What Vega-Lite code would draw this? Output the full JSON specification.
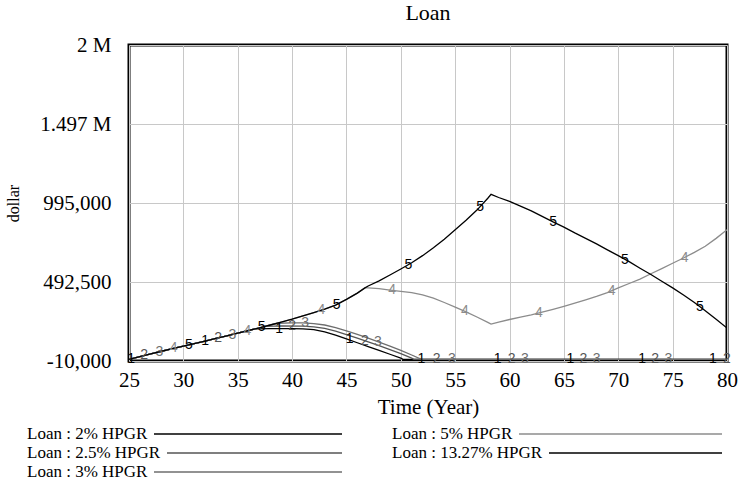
{
  "$schema": "https://vega.github.io/schema/vega-lite/v6.json",
  "autosize": {"type": "none"},
  "padding": {"left": 129, "top": 45, "right": 11, "bottom": 124},
  "width": 598,
  "height": 316,
  "background": "white",
  "title": {"text": "Loan", "font": "Liberation Serif", "fontSize": 22, "fontWeight": "normal", "color": "#000", "offset": 9, "anchor": "middle"},
  "config": {
    "view": {"stroke": "#000", "strokeWidth": 3},
    "axis": {"domain": false, "ticks": false, "grid": true, "gridColor": "#c8c8c8", "gridWidth": 1, "labelFont": "Liberation Serif", "labelFontSize": 21, "labelColor": "#000", "titleFont": "Liberation Serif", "titleFontWeight": "normal", "titleColor": "#000"}
  },
  "datasets": {
    "lines": [
      {"run": "1", "year": 25, "value": 0}, {"run": "1", "year": 26, "value": 18000}, {"run": "1", "year": 27, "value": 36000}, {"run": "1", "year": 28, "value": 52000}, {"run": "1", "year": 29, "value": 68000}, {"run": "1", "year": 30, "value": 84000}, {"run": "1", "year": 31, "value": 100000}, {"run": "1", "year": 32, "value": 117000}, {"run": "1", "year": 33, "value": 134000}, {"run": "1", "year": 34, "value": 150000}, {"run": "1", "year": 35, "value": 167000}, {"run": "1", "year": 36, "value": 184000}, {"run": "1", "year": 36.6, "value": 194000}, {"run": "1", "year": 38, "value": 196000}, {"run": "1", "year": 40, "value": 196000}, {"run": "1", "year": 41, "value": 194000}, {"run": "1", "year": 42, "value": 189000}, {"run": "1", "year": 43, "value": 175000}, {"run": "1", "year": 44, "value": 155000}, {"run": "1", "year": 45, "value": 131000}, {"run": "1", "year": 46, "value": 106000}, {"run": "1", "year": 47, "value": 81000}, {"run": "1", "year": 48, "value": 57000}, {"run": "1", "year": 49, "value": 33000}, {"run": "1", "year": 50, "value": 8000}, {"run": "1", "year": 50.2, "value": 0}, {"run": "1", "year": 80, "value": 0},
      {"run": "2", "year": 25, "value": 0}, {"run": "2", "year": 26, "value": 18000}, {"run": "2", "year": 27, "value": 36000}, {"run": "2", "year": 28, "value": 52000}, {"run": "2", "year": 29, "value": 68000}, {"run": "2", "year": 30, "value": 84000}, {"run": "2", "year": 31, "value": 100000}, {"run": "2", "year": 32, "value": 117000}, {"run": "2", "year": 33, "value": 134000}, {"run": "2", "year": 34, "value": 150000}, {"run": "2", "year": 35, "value": 167000}, {"run": "2", "year": 36, "value": 184000}, {"run": "2", "year": 37, "value": 201000}, {"run": "2", "year": 37.6, "value": 210000}, {"run": "2", "year": 39, "value": 213000}, {"run": "2", "year": 41, "value": 212000}, {"run": "2", "year": 42, "value": 207000}, {"run": "2", "year": 43, "value": 197000}, {"run": "2", "year": 44, "value": 180000}, {"run": "2", "year": 45, "value": 158000}, {"run": "2", "year": 46, "value": 135000}, {"run": "2", "year": 47, "value": 112000}, {"run": "2", "year": 48, "value": 88000}, {"run": "2", "year": 49, "value": 63000}, {"run": "2", "year": 50, "value": 37000}, {"run": "2", "year": 51, "value": 8000}, {"run": "2", "year": 51.2, "value": 0}, {"run": "2", "year": 80, "value": 0},
      {"run": "3", "year": 25, "value": 0}, {"run": "3", "year": 26, "value": 18000}, {"run": "3", "year": 27, "value": 36000}, {"run": "3", "year": 28, "value": 52000}, {"run": "3", "year": 29, "value": 68000}, {"run": "3", "year": 30, "value": 84000}, {"run": "3", "year": 31, "value": 100000}, {"run": "3", "year": 32, "value": 117000}, {"run": "3", "year": 33, "value": 134000}, {"run": "3", "year": 34, "value": 150000}, {"run": "3", "year": 35, "value": 167000}, {"run": "3", "year": 36, "value": 184000}, {"run": "3", "year": 37, "value": 201000}, {"run": "3", "year": 38, "value": 219000}, {"run": "3", "year": 38.7, "value": 230000}, {"run": "3", "year": 40, "value": 233000}, {"run": "3", "year": 41, "value": 233000}, {"run": "3", "year": 42, "value": 228000}, {"run": "3", "year": 43, "value": 219000}, {"run": "3", "year": 44, "value": 203000}, {"run": "3", "year": 45, "value": 182000}, {"run": "3", "year": 46, "value": 160000}, {"run": "3", "year": 47, "value": 135000}, {"run": "3", "year": 48, "value": 110000}, {"run": "3", "year": 49, "value": 85000}, {"run": "3", "year": 50, "value": 58000}, {"run": "3", "year": 51, "value": 28000}, {"run": "3", "year": 51.9, "value": 0}, {"run": "3", "year": 80, "value": 0},
      {"run": "4", "year": 25, "value": 0}, {"run": "4", "year": 26, "value": 18000}, {"run": "4", "year": 27, "value": 36000}, {"run": "4", "year": 28, "value": 52000}, {"run": "4", "year": 29, "value": 68000}, {"run": "4", "year": 30, "value": 84000}, {"run": "4", "year": 31, "value": 100000}, {"run": "4", "year": 32, "value": 117000}, {"run": "4", "year": 33, "value": 134000}, {"run": "4", "year": 34, "value": 150000}, {"run": "4", "year": 35, "value": 167000}, {"run": "4", "year": 36, "value": 184000}, {"run": "4", "year": 37, "value": 201000}, {"run": "4", "year": 38, "value": 219000}, {"run": "4", "year": 39, "value": 237000}, {"run": "4", "year": 40, "value": 256000}, {"run": "4", "year": 41, "value": 277000}, {"run": "4", "year": 42, "value": 298000}, {"run": "4", "year": 43, "value": 320000}, {"run": "4", "year": 44, "value": 345000}, {"run": "4", "year": 45, "value": 382000}, {"run": "4", "year": 46, "value": 422000}, {"run": "4", "year": 46.7, "value": 455000}, {"run": "4", "year": 47, "value": 455000}, {"run": "4", "year": 48, "value": 450000}, {"run": "4", "year": 49, "value": 441000}, {"run": "4", "year": 50, "value": 433000}, {"run": "4", "year": 51, "value": 425000}, {"run": "4", "year": 52, "value": 411000}, {"run": "4", "year": 53, "value": 390000}, {"run": "4", "year": 54, "value": 362000}, {"run": "4", "year": 55, "value": 333000}, {"run": "4", "year": 56, "value": 303000}, {"run": "4", "year": 57, "value": 270000}, {"run": "4", "year": 58, "value": 236000}, {"run": "4", "year": 58.3, "value": 225000}, {"run": "4", "year": 59, "value": 238000}, {"run": "4", "year": 60, "value": 254000}, {"run": "4", "year": 61, "value": 269000}, {"run": "4", "year": 62, "value": 284000}, {"run": "4", "year": 63, "value": 301000}, {"run": "4", "year": 64, "value": 319000}, {"run": "4", "year": 65, "value": 338000}, {"run": "4", "year": 66, "value": 358000}, {"run": "4", "year": 67, "value": 379000}, {"run": "4", "year": 68, "value": 401000}, {"run": "4", "year": 69, "value": 425000}, {"run": "4", "year": 70, "value": 455000}, {"run": "4", "year": 71, "value": 483000}, {"run": "4", "year": 72, "value": 511000}, {"run": "4", "year": 73, "value": 545000}, {"run": "4", "year": 74, "value": 578000}, {"run": "4", "year": 75, "value": 612000}, {"run": "4", "year": 76, "value": 645000}, {"run": "4", "year": 77, "value": 681000}, {"run": "4", "year": 78, "value": 720000}, {"run": "4", "year": 79, "value": 770000}, {"run": "4", "year": 80, "value": 825000},
      {"run": "5", "year": 25, "value": 0}, {"run": "5", "year": 26, "value": 18000}, {"run": "5", "year": 27, "value": 36000}, {"run": "5", "year": 28, "value": 52000}, {"run": "5", "year": 29, "value": 68000}, {"run": "5", "year": 30, "value": 84000}, {"run": "5", "year": 31, "value": 100000}, {"run": "5", "year": 32, "value": 117000}, {"run": "5", "year": 33, "value": 134000}, {"run": "5", "year": 34, "value": 150000}, {"run": "5", "year": 35, "value": 167000}, {"run": "5", "year": 36, "value": 184000}, {"run": "5", "year": 37, "value": 201000}, {"run": "5", "year": 38, "value": 219000}, {"run": "5", "year": 39, "value": 237000}, {"run": "5", "year": 40, "value": 256000}, {"run": "5", "year": 41, "value": 277000}, {"run": "5", "year": 42, "value": 298000}, {"run": "5", "year": 43, "value": 320000}, {"run": "5", "year": 44, "value": 345000}, {"run": "5", "year": 45, "value": 382000}, {"run": "5", "year": 46, "value": 422000}, {"run": "5", "year": 46.7, "value": 455000}, {"run": "5", "year": 47, "value": 467000}, {"run": "5", "year": 48, "value": 500000}, {"run": "5", "year": 49, "value": 537000}, {"run": "5", "year": 50, "value": 575000}, {"run": "5", "year": 51, "value": 615000}, {"run": "5", "year": 52, "value": 660000}, {"run": "5", "year": 53, "value": 710000}, {"run": "5", "year": 54, "value": 765000}, {"run": "5", "year": 55, "value": 825000}, {"run": "5", "year": 56, "value": 885000}, {"run": "5", "year": 57, "value": 950000}, {"run": "5", "year": 58, "value": 1025000}, {"run": "5", "year": 58.3, "value": 1050000}, {"run": "5", "year": 59, "value": 1030000}, {"run": "5", "year": 60, "value": 1005000}, {"run": "5", "year": 61, "value": 975000}, {"run": "5", "year": 62, "value": 945000}, {"run": "5", "year": 63, "value": 910000}, {"run": "5", "year": 64, "value": 875000}, {"run": "5", "year": 65, "value": 842000}, {"run": "5", "year": 66, "value": 805000}, {"run": "5", "year": 67, "value": 770000}, {"run": "5", "year": 68, "value": 735000}, {"run": "5", "year": 69, "value": 697000}, {"run": "5", "year": 70, "value": 660000}, {"run": "5", "year": 71, "value": 622000}, {"run": "5", "year": 72, "value": 580000}, {"run": "5", "year": 73, "value": 540000}, {"run": "5", "year": 74, "value": 497000}, {"run": "5", "year": 75, "value": 455000}, {"run": "5", "year": 76, "value": 410000}, {"run": "5", "year": 77, "value": 362000}, {"run": "5", "year": 78, "value": 310000}, {"run": "5", "year": 79, "value": 255000}, {"run": "5", "year": 80, "value": 200000}
    ],
    "labels": [
      {"run": "1", "year": 25.2, "value": 3000}, {"run": "1", "year": 32.0, "value": 117000}, {"run": "1", "year": 38.8, "value": 196000}, {"run": "1", "year": 45.3, "value": 128000}, {"run": "1", "year": 51.9, "value": 0}, {"run": "1", "year": 58.9, "value": 0}, {"run": "1", "year": 65.6, "value": 0}, {"run": "1", "year": 72.2, "value": 0}, {"run": "1", "year": 78.7, "value": 0},
      {"run": "2", "year": 26.4, "value": 25000}, {"run": "2", "year": 33.2, "value": 137000}, {"run": "2", "year": 40.0, "value": 213000}, {"run": "2", "year": 46.7, "value": 119000}, {"run": "2", "year": 53.3, "value": 0}, {"run": "2", "year": 60.2, "value": 0}, {"run": "2", "year": 66.8, "value": 0}, {"run": "2", "year": 73.4, "value": 0}, {"run": "2", "year": 80.0, "value": 0},
      {"run": "3", "year": 27.8, "value": 50000}, {"run": "3", "year": 34.5, "value": 158000}, {"run": "3", "year": 41.2, "value": 233000}, {"run": "3", "year": 47.9, "value": 112000}, {"run": "3", "year": 54.7, "value": 0}, {"run": "3", "year": 61.4, "value": 0}, {"run": "3", "year": 68.0, "value": 0}, {"run": "3", "year": 74.6, "value": 0},
      {"run": "4", "year": 29.1, "value": 70000}, {"run": "4", "year": 35.9, "value": 182000}, {"run": "4", "year": 42.7, "value": 313000}, {"run": "4", "year": 49.2, "value": 440000}, {"run": "4", "year": 55.9, "value": 306000}, {"run": "4", "year": 62.7, "value": 297000}, {"run": "4", "year": 69.4, "value": 435000}, {"run": "4", "year": 76.1, "value": 648000},
      {"run": "5", "year": 30.5, "value": 92000}, {"run": "5", "year": 37.2, "value": 204000}, {"run": "5", "year": 44.1, "value": 347000}, {"run": "5", "year": 50.7, "value": 600000}, {"run": "5", "year": 57.3, "value": 972000}, {"run": "5", "year": 64.0, "value": 875000}, {"run": "5", "year": 70.6, "value": 635000}, {"run": "5", "year": 77.5, "value": 335000}
    ]
  },
  "encoding": {
    "x": {"field": "year", "type": "quantitative", "scale": {"domain": [25, 80], "nice": false, "zero": false},
      "axis": {"values": [25, 30, 35, 40, 45, 50, 55, 60, 65, 70, 75, 80], "title": "Time (Year)", "titleFontSize": 21, "labelPadding": 8, "titlePadding": 6, "labelFlush": false}},
    "y": {"field": "value", "type": "quantitative", "scale": {"domain": [-10000, 2000000], "nice": false, "zero": false},
      "axis": {"values": [-10000, 492500, 995000, 1497500, 2000000], "title": "dollar", "titleFontSize": 16, "labelPadding": 18, "titlePadding": 18,
        "labelExpr": "datum.value == 2000000 ? '2 M' : datum.value == 1497500 ? '1.497 M' : datum.value == 995000 ? '995,000' : datum.value == 492500 ? '492,500' : '-10,000'"}},
    "color": {"field": "run", "type": "nominal",
      "scale": {"domain": ["1", "2", "3", "4", "5"], "range": ["#000000", "#555555", "#6e6e6e", "#8c8c8c", "#000000"]},
      "legend": {
        "orient": "none", "legendX": -104, "legendY": 378, "direction": "vertical", "columns": 2, "title": null, "padding": 0,
        "symbolType": "stroke", "symbolSize": 400, "symbolStrokeWidth": 1.5,
        "labelFont": "Liberation Serif", "labelFontSize": 17, "labelColor": "#000", "labelAlign": "left", "labelOffset": -20, "labelLimit": 200,
        "columnPadding": 45, "rowPadding": 0,
        "labelExpr": "datum.label == '1' ? 'Loan : 2% HPGR' : datum.label == '2' ? 'Loan : 2.5% HPGR' : datum.label == '3' ? 'Loan : 3% HPGR' : datum.label == '4' ? 'Loan : 5% HPGR' : 'Loan : 13.27% HPGR'",
        "encode": {"symbols": {"update": {"shape": {"signal": "datum.value == '2' ? 'M13.1,0H30.6' : datum.value == '4' ? 'M11.8,0H32.1' : datum.value == '5' ? 'M14.8,0H32.1' : 'M11.8,0H30.6'"}, "fill": {"value": "transparent"}}}}
      }
    }
  },
  "layer": [
    {"data": {"name": "lines"}, "mark": {"type": "line", "strokeWidth": 1.3, "clip": true}, "encoding": {"detail": {"field": "run"}}},
    {"data": {"name": "labels"}, "mark": {"type": "text", "font": "Liberation Sans", "fontSize": 14, "align": "center", "baseline": "middle", "clip": false},
      "encoding": {"text": {"field": "run"}, "color": {"field": "run", "type": "nominal", "legend": null}}}
  ]
}
